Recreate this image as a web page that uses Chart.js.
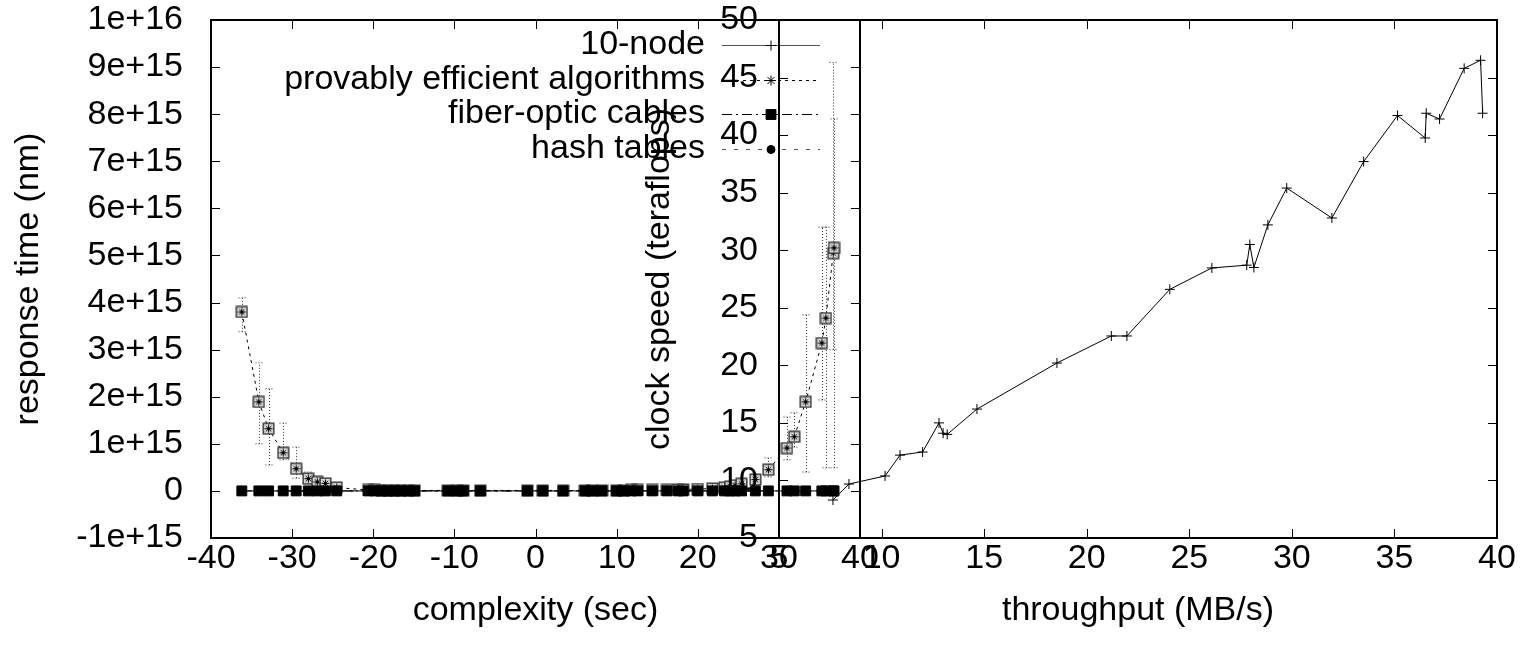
<!DOCTYPE html>
<html>
<head>
<meta charset="utf-8">
<script src="https://cdn.jsdelivr.net/npm/chart.js@4.4.1/dist/chart.umd.min.js"></script>
<style>
  html, body { margin: 0; padding: 0; background: #fff; }
  #wrap { position: relative; width: 1523px; height: 648px; }
  #wrap canvas { position: absolute; left: 0; top: 0; }
</style>
</head>
<body>
<div id="wrap">
  <canvas id="leftChart" width="1523" height="648"></canvas>
  <canvas id="rightChart" width="1523" height="648"></canvas>
</div>
<script>
const FONT = '"Liberation Sans", Arial, Helvetica, sans-serif';
const SIZE = 34;

// Left plot: complexity (sec) vs response time (nm)
const complexity = [
  -36.2, -34.1, -32.9, -31.1, -29.5, -28.0, -26.9, -25.9, -24.5,
  -20.6, -19.8, -19.0, -18.2, -17.4, -16.6, -15.7, -14.9,
  -10.8, -9.6, -8.9, -6.8, -1.0, 0.9, 3.4, 6.1, 7.0, 8.2,
  10.0, 10.9, 11.8, 12.6, 14.4, 16.2, 17.6, 18.2, 20.0, 21.8,
  23.3, 24.0, 24.6, 25.4, 27.1, 28.7, 31.0, 31.9, 33.3, 35.3, 35.8, 36.7, 36.8
];
const tenNodeLeft = [
  0, 0, 0, 0, 0, 0, 0, 0, 0,
  0, 0, 0, 0, 0, 0, 0, 0,
  0, 0, 0, 0, 0, 0, 0, 0, 0, 0,
  0, 0, 0, 0, 0, 0, 0, 0, 0, 0,
  0, 0, 0, 0, 0, 0, 0, 0, 0, 0, 0, 0, 0
];
const provably = [
  3.80e15, 1.89e15, 1.32e15, 0.81e15, 0.47e15, 0.26e15, 0.19e15, 0.16e15, 0.07e15,
  0.02e15, 0.02e15, 0.01e15, 0.01e15, 0.01e15, 0.01e15, 0.01e15, 0.01e15,
  0.01e15, 0.01e15, 0.01e15, 0.01e15, 0.01e15, 0.01e15, 0.01e15, 0.01e15, 0.01e15, 0.01e15,
  0.01e15, 0.01e15, 0.02e15, 0.02e15, 0.02e15, 0.02e15, 0.03e15, 0.03e15, 0.04e15, 0.05e15,
  0.07e15, 0.09e15, 0.12e15, 0.15e15, 0.24e15, 0.45e15, 0.91e15, 1.15e15, 1.89e15, 3.14e15, 3.67e15, 5.05e15, 5.16e15
];
const provablyLow = [
  3.38e15, 1.00e15, 0.55e15, 0.66e15, 0.27e15, 0.15e15, 0.12e15, 0.10e15, null,
  null, null, null, null, null, null, null, null,
  null, null, null, null, null, null, null, null, null, null,
  null, null, null, null, null, null, null, null, null, null,
  null, null, null, null, 0.15e15, 0.30e15, 0.66e15, 0.93e15, 0.40e15, 1.93e15, 0.49e15, 3.00e15, 0.49e15
];
const provablyHigh = [
  4.10e15, 2.72e15, 2.17e15, 1.44e15, 0.93e15, 0.40e15, 0.30e15, 0.25e15, null,
  null, null, null, null, null, null, null, null,
  null, null, null, null, null, null, null, null, null, null,
  null, null, null, null, null, null, null, null, null, null,
  null, null, null, null, 0.35e15, 0.70e15, 1.57e15, 1.66e15, 3.74e15, 5.60e15, 5.60e15, 9.10e15, 7.90e15
];
const fiberOptic = [
  0, 0, 0, 0, 0, 0, 0, 0, 0,
  0, 0, 0, 0, 0, 0, 0, 0,
  0, 0, 0, 0, 0, 0, 0, 0, 0, 0,
  0, 0, 0, 0, 0, 0, 0, 0, 0, 0,
  0, 0, 0, 0, 0, 0, 0, 0, 0, 0, 0, 0, 0
];
const hashTables = [
  0, 0, 0, 0, 0, 0, 0, 0, 0,
  0, 0, 0, 0, 0, 0, 0, 0,
  0, 0, 0, 0, 0, 0, 0, 0, 0, 0,
  0, 0, 0, 0, 0, 0, 0, 0, 0, 0,
  0, 0, 0, 0, 0, 0, 0, 0, 0, 0, 0, 0, 0
];

// Right plot: throughput (MB/s) vs clock speed (teraflops)
const throughput = [
  7.63, 8.41, 10.17, 10.9, 12.0, 12.8, 13.0, 13.2, 14.65, 18.55, 21.2, 21.96, 24.05, 26.1,
  27.8, 27.95, 28.15, 28.83, 29.75, 31.95, 33.5, 35.15, 36.5, 36.55, 37.2, 38.4, 39.2, 39.3
];
const clockSpeed = [
  8.3, 9.69, 10.39, 12.2, 12.47, 15.0, 14.1, 14.0, 16.2, 20.2, 22.55, 22.55, 26.6, 28.46,
  28.7, 30.5, 28.5, 32.2, 35.4, 32.8, 37.7, 41.7, 39.75, 41.9, 41.4, 45.8, 46.5, 41.9
];

const leftXTicks = { min: -40, max: 40, step: 10 };
const leftYTicks = { min: -1e15, max: 1e16, step: 1e15 };
const rightXTicks = { min: 5, max: 40, step: 5 };
const rightYTicks = { min: 5, max: 50, step: 5 };

Chart.defaults.font.family = FONT;
Chart.defaults.font.size = SIZE;
Chart.defaults.color = '#000';

function toXY(xs, ys) {
  return xs.map((x, i) => ({ x: x, y: ys[i] }));
}

// gnuplot-ish boxed star marker
function boxedStar() {
  const c = document.createElement('canvas');
  c.width = 13; c.height = 13;
  const g = c.getContext('2d');
  g.fillStyle = '#dcdcdc';
  g.fillRect(1, 1, 11, 11);
  g.strokeStyle = '#333';
  g.lineWidth = 1.4;
  g.strokeRect(1.2, 1.2, 10.6, 10.6);
  g.strokeStyle = '#000';
  g.lineWidth = 1;
  g.beginPath();
  g.moveTo(6.5, 2.5); g.lineTo(6.5, 10.5);
  g.moveTo(2.5, 6.5); g.lineTo(10.5, 6.5);
  g.moveTo(3.7, 3.7); g.lineTo(9.3, 9.3);
  g.moveTo(9.3, 3.7); g.lineTo(3.7, 9.3);
  g.stroke();
  return c;
}

function axisFrame(cfg) {
  return {
    id: 'axisFrame',
    afterDraw(chart) {
      const { ctx, chartArea: a } = chart;
      const x = chart.scales.x, y = chart.scales.y;
      ctx.save();
      ctx.strokeStyle = '#000';
      ctx.lineWidth = 1;
      ctx.beginPath();
      x.ticks.forEach(t => {
        const px = Math.round(x.getPixelForValue(t.value)) + 0.5;
        ctx.moveTo(px, a.bottom); ctx.lineTo(px, a.bottom - 9);
        ctx.moveTo(px, a.top); ctx.lineTo(px, a.top + 9);
      });
      y.ticks.forEach(t => {
        const py = Math.round(y.getPixelForValue(t.value)) + 0.5;
        ctx.moveTo(a.left, py); ctx.lineTo(a.left + 9, py);
        ctx.moveTo(a.right, py); ctx.lineTo(a.right - 9, py);
      });
      ctx.stroke();
      ctx.lineWidth = 2;
      ctx.strokeRect(a.left, a.top, a.right - a.left, a.bottom - a.top);

      ctx.fillStyle = '#000';
      ctx.font = SIZE + 'px ' + FONT;
      ctx.textAlign = 'center';
      ctx.textBaseline = 'middle';
      ctx.fillText(cfg.xTitle, (a.left + a.right) / 2, cfg.xTitleY);
      ctx.translate(cfg.yTitleX, (a.top + a.bottom) / 2);
      ctx.rotate(-Math.PI / 2);
      ctx.fillText(cfg.yTitle, 0, 0);
      ctx.restore();
    }
  };
}

const errorBars = {
  id: 'errorBars',
  beforeDatasetsDraw(chart) {
    const { ctx } = chart;
    const x = chart.scales.x, y = chart.scales.y;
    ctx.save();
    ctx.strokeStyle = '#333';
    ctx.lineWidth = 1;
    ctx.setLineDash([1, 2]);
    ctx.beginPath();
    complexity.forEach((cx, i) => {
      const lo = provablyLow[i], hi = provablyHigh[i];
      if (lo == null || hi == null) return;
      const px = Math.round(x.getPixelForValue(cx)) + 0.5;
      const p1 = y.getPixelForValue(lo), p2 = y.getPixelForValue(hi);
      ctx.moveTo(px, p1); ctx.lineTo(px, p2);
      ctx.moveTo(px - 4, p1); ctx.lineTo(px + 4, p1);
      ctx.moveTo(px - 4, p2); ctx.lineTo(px + 4, p2);
    });
    ctx.stroke();
    ctx.restore();
  }
};

// key in the top right of the left plot, gnuplot style
const gnuKey = {
  id: 'gnuKey',
  afterDraw(chart) {
    const { ctx } = chart;
    const textRight = 705, lineL = 722, lineR = 820, top = 45, step = 34.5;
    ctx.save();
    ctx.font = SIZE + 'px ' + FONT;
    ctx.textAlign = 'right';
    ctx.textBaseline = 'middle';
    chart.data.datasets.forEach((ds, i) => {
      const yy = top + i * step;
      ctx.fillStyle = '#000';
      ctx.fillText(ds.label, textRight, yy);
      ctx.strokeStyle = ds.keyColor || '#000';
      ctx.lineWidth = 1;
      ctx.setLineDash(ds.borderDash || []);
      ctx.beginPath();
      ctx.moveTo(lineL, Math.round(yy) + 0.5);
      ctx.lineTo(lineR, Math.round(yy) + 0.5);
      ctx.stroke();
      ctx.setLineDash([]);
      ctx.strokeStyle = '#000';
      ctx.fillStyle = '#000';
      Chart.helpers.drawPoint(ctx, {
        pointStyle: ds.keyPoint, radius: ds.keyRadius, borderWidth: 1, rotation: 0
      }, (lineL + lineR) / 2, Math.round(yy) + 0.5);
    });
    ctx.restore();
  }
};

function fixedAxis(size, isX) {
  return function (s) {
    if (isX) { s.height = size; s.paddingLeft = 0; s.paddingRight = 0; }
    else { s.width = size; s.paddingTop = 0; s.paddingBottom = 0; }
  };
}

function expLabel(v) {
  if (Math.abs(v) < 1) return '0';
  return v.toExponential(0);
}

new Chart(document.getElementById('leftChart'), {
  type: 'scatter',
  data: {
    datasets: [
      {
        label: '10-node', data: toXY(complexity, tenNodeLeft), showLine: true,
        borderColor: '#000', borderWidth: 1, pointStyle: 'cross', pointRadius: 5,
        pointBorderColor: '#000', pointBorderWidth: 1, order: 1,
        keyPoint: 'cross', keyRadius: 5, keyColor: '#555'
      },
      {
        label: 'provably efficient algorithms', data: toXY(complexity, provably), showLine: true,
        borderColor: '#000', borderWidth: 1, borderDash: [3, 4], pointStyle: boxedStar(),
        order: 3, keyPoint: 'star', keyRadius: 5
      },
      {
        label: 'fiber-optic cables', data: toXY(complexity, fiberOptic), showLine: true,
        borderColor: '#000', borderWidth: 1, borderDash: [10, 4, 2, 4], pointStyle: 'rect',
        pointRadius: 7, pointBackgroundColor: '#000', pointBorderColor: '#000', order: 0,
        keyPoint: 'rect', keyRadius: 7
      },
      {
        label: 'hash tables', data: toXY(complexity, hashTables), showLine: true,
        borderColor: '#000', borderWidth: 1, borderDash: [4, 8], pointStyle: 'circle',
        pointRadius: 3, pointBackgroundColor: '#000', pointBorderColor: '#000', order: 2,
        keyPoint: 'circle', keyRadius: 4, keyColor: '#555'
      }
    ]
  },
  options: {
    responsive: false, animation: false, events: [],
    layout: { padding: { left: 0, top: 20, right: 663, bottom: 0 } },
    plugins: { legend: { display: false }, tooltip: { enabled: false } },
    scales: {
      x: {
        type: 'linear', position: 'bottom', min: leftXTicks.min, max: leftXTicks.max,
        grid: { display: false, drawTicks: false }, border: { display: false },
        ticks: { stepSize: leftXTicks.step, maxTicksLimit: 30, autoSkip: false, maxRotation: 0, padding: 0 },
        afterFit: fixedAxis(110, true)
      },
      y: {
        type: 'linear', min: leftYTicks.min, max: leftYTicks.max,
        grid: { display: false, drawTicks: false }, border: { display: false },
        ticks: { stepSize: leftYTicks.step, maxTicksLimit: 30, autoSkip: false, padding: 28, callback: expLabel },
        afterFit: fixedAxis(211, false)
      }
    }
  },
  plugins: [errorBars, axisFrame({ xTitle: 'complexity (sec)', xTitleY: 611, yTitle: 'response time (nm)', yTitleX: 29 }), gnuKey]
});

new Chart(document.getElementById('rightChart'), {
  type: 'scatter',
  data: {
    datasets: [
      {
        label: '10-node', data: toXY(throughput, clockSpeed), showLine: true,
        borderColor: '#000', borderWidth: 1, pointStyle: 'cross', pointRadius: 5,
        pointBorderColor: '#000', pointBorderWidth: 1
      }
    ]
  },
  options: {
    responsive: false, animation: false, events: [],
    layout: { padding: { left: 0, top: 20, right: 26, bottom: 0 } },
    plugins: { legend: { display: false }, tooltip: { enabled: false } },
    scales: {
      x: {
        type: 'linear', position: 'bottom', min: rightXTicks.min, max: rightXTicks.max,
        grid: { display: false, drawTicks: false }, border: { display: false },
        ticks: { stepSize: rightXTicks.step, maxTicksLimit: 30, autoSkip: false, maxRotation: 0, padding: 0 },
        afterFit: fixedAxis(110, true)
      },
      y: {
        type: 'linear', min: rightYTicks.min, max: rightYTicks.max,
        grid: { display: false, drawTicks: false }, border: { display: false },
        ticks: { stepSize: rightYTicks.step, maxTicksLimit: 30, autoSkip: false, padding: 21 },
        afterFit: fixedAxis(779, false)
      }
    }
  },
  plugins: [axisFrame({ xTitle: 'throughput (MB/s)', xTitleY: 611, yTitle: 'clock speed (teraflops)', yTitleX: 660 })]
});
</script>
</body>
</html>
